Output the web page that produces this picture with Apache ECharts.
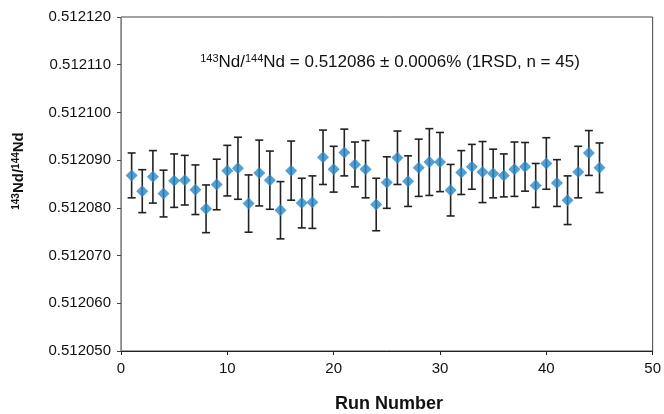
<!DOCTYPE html>
<html>
<head>
<meta charset="utf-8">
<script src="https://cdn.jsdelivr.net/npm/echarts@6/dist/echarts.min.js"></script>
<style>
  html, body { margin: 0; padding: 0; background: #fff; }
  #chart { width: 664px; height: 414px; }
</style>
</head>
<body>
<div id="chart"></div>
<script>
// run numbers
const runs = [1, 2, 3, 4, 5, 6, 7, 8, 9, 10, 11, 12, 13, 14, 15, 16, 17, 18, 19, 20,
  21, 22, 23, 24, 25, 26, 27, 28, 29, 30, 31, 32, 33, 34, 35, 36, 37, 38, 39, 40,
  41, 42, 43, 44, 45];

// 143Nd/144Nd measured per run
const ratios = [
  0.5120868, 0.5120835, 0.5120865, 0.5120830, 0.5120857, 0.5120858, 0.5120838, 0.5120798, 0.5120849, 0.5120878,
  0.5120883, 0.5120809, 0.5120873, 0.5120858, 0.5120795, 0.5120878, 0.5120810, 0.5120812, 0.5120906, 0.5120881,
  0.5120916, 0.5120891, 0.5120881, 0.5120807, 0.5120853, 0.5120905, 0.5120856, 0.5120884, 0.5120896, 0.5120896,
  0.5120837, 0.5120874, 0.5120886, 0.5120875, 0.5120872, 0.5120868, 0.5120881, 0.5120886, 0.5120847, 0.5120893,
  0.5120852, 0.5120816, 0.5120875, 0.5120915, 0.5120884
];

// error bar half-length per run
const errors = [
  0.0000047, 0.0000045, 0.0000055, 0.0000049, 0.0000056, 0.0000052, 0.0000052, 0.0000050, 0.0000053, 0.0000053,
  0.0000065, 0.0000060, 0.0000069, 0.0000061, 0.0000060, 0.0000062, 0.0000052, 0.0000055, 0.0000057, 0.0000048,
  0.0000049, 0.0000047, 0.0000060, 0.0000055, 0.0000054, 0.0000056, 0.0000053, 0.0000060, 0.0000070, 0.0000062,
  0.0000054, 0.0000046, 0.0000047, 0.0000064, 0.0000051, 0.0000045, 0.0000057, 0.0000051, 0.0000046, 0.0000054,
  0.0000049, 0.0000051, 0.0000054, 0.0000047, 0.0000052
];

const chart = echarts.init(document.getElementById('chart'));

const points = runs.map((r, i) => [r, ratios[i]]);
const bars = runs.map((r, i) => [r, ratios[i], errors[i]]);

const font = 'Liberation Sans, Arial, sans-serif';

const option = {
  animation: false,
  textStyle: { fontFamily: font },
  grid: {
    left: 121, right: 9, top: 17, bottom: 63,
    show: true, borderColor: '#444', borderWidth: 1
  },
  xAxis: {
    type: 'value',
    min: 0, max: 50, interval: 10,
    axisLine: { show: true, lineStyle: { color: '#222' } },
    axisTick: { show: true, length: 4, lineStyle: { color: '#222' } },
    axisLabel: { color: '#111', fontSize: 15, margin: 10 },
    splitLine: { show: false }
  },
  yAxis: {
    type: 'value',
    min: 0.51205, max: 0.51212, interval: 0.00001,
    axisLine: { show: true, lineStyle: { color: '#888' } },
    axisTick: { show: true, length: 4, lineStyle: { color: '#444' } },
    axisLabel: { color: '#111', fontSize: 15, margin: 10, formatter: v => v.toFixed(6) },
    splitLine: { show: false }
  },
  graphic: [
    {
      type: 'text',
      style: {
        x: 390, y: 62, align: 'center', verticalAlign: 'middle',
        text: '{s|143}Nd/{s|144}Nd = 0.512086 ± 0.0006% (1RSD, n = 45)',
        fontFamily: font, fontSize: 17, fill: '#111',
        rich: {
          s: { fontSize: 11, padding: [0, 0, 7, 0], fontFamily: font, fill: '#111' }
        }
      }
    },
    {
      type: 'text',
      style: {
        x: 389, y: 404, align: 'center', verticalAlign: 'middle',
        text: 'Run Number', fontFamily: font, fontSize: 18, fontWeight: 'bold', fill: '#111'
      }
    },
    {
      type: 'text',
      x: 19, y: 171, rotation: Math.PI / 2,
      style: {
        x: 0, y: 0, align: 'center', verticalAlign: 'middle',
        text: '{s|143}{b|Nd/}{s|144}{b|Nd}',
        fontFamily: font, fontSize: 15, fontWeight: 'bold', fill: '#111',
        rich: {
          s: { fontSize: 10, fontWeight: 'bold', padding: [0, 0, 6, 0], fontFamily: font, fill: '#111' },
          b: { fontSize: 15, fontWeight: 'bold', fontFamily: font, fill: '#111' }
        }
      }
    }
  ],
  series: [
    {
      type: 'custom',
      data: bars,
      z: 2,
      renderItem: function (params, api) {
        const x = api.value(0);
        const y = api.value(1);
        const e = api.value(2);
        const top = api.coord([x, y + e]);
        const bot = api.coord([x, y - e]);
        const cap = 4;
        const style = { stroke: '#222', lineWidth: 1.6 };
        return {
          type: 'group',
          children: [
            { type: 'line', shape: { x1: top[0], y1: top[1], x2: bot[0], y2: bot[1] }, style: style },
            { type: 'line', shape: { x1: top[0] - cap, y1: top[1], x2: top[0] + cap, y2: top[1] }, style: style },
            { type: 'line', shape: { x1: bot[0] - cap, y1: bot[1], x2: bot[0] + cap, y2: bot[1] }, style: style }
          ]
        };
      }
    },
    {
      type: 'scatter',
      data: points,
      z: 3,
      symbol: 'diamond',
      symbolSize: [12, 12],
      itemStyle: { color: '#2b88c8' }
    }
  ]
};

chart.setOption(option);
</script>
</body>
</html>
